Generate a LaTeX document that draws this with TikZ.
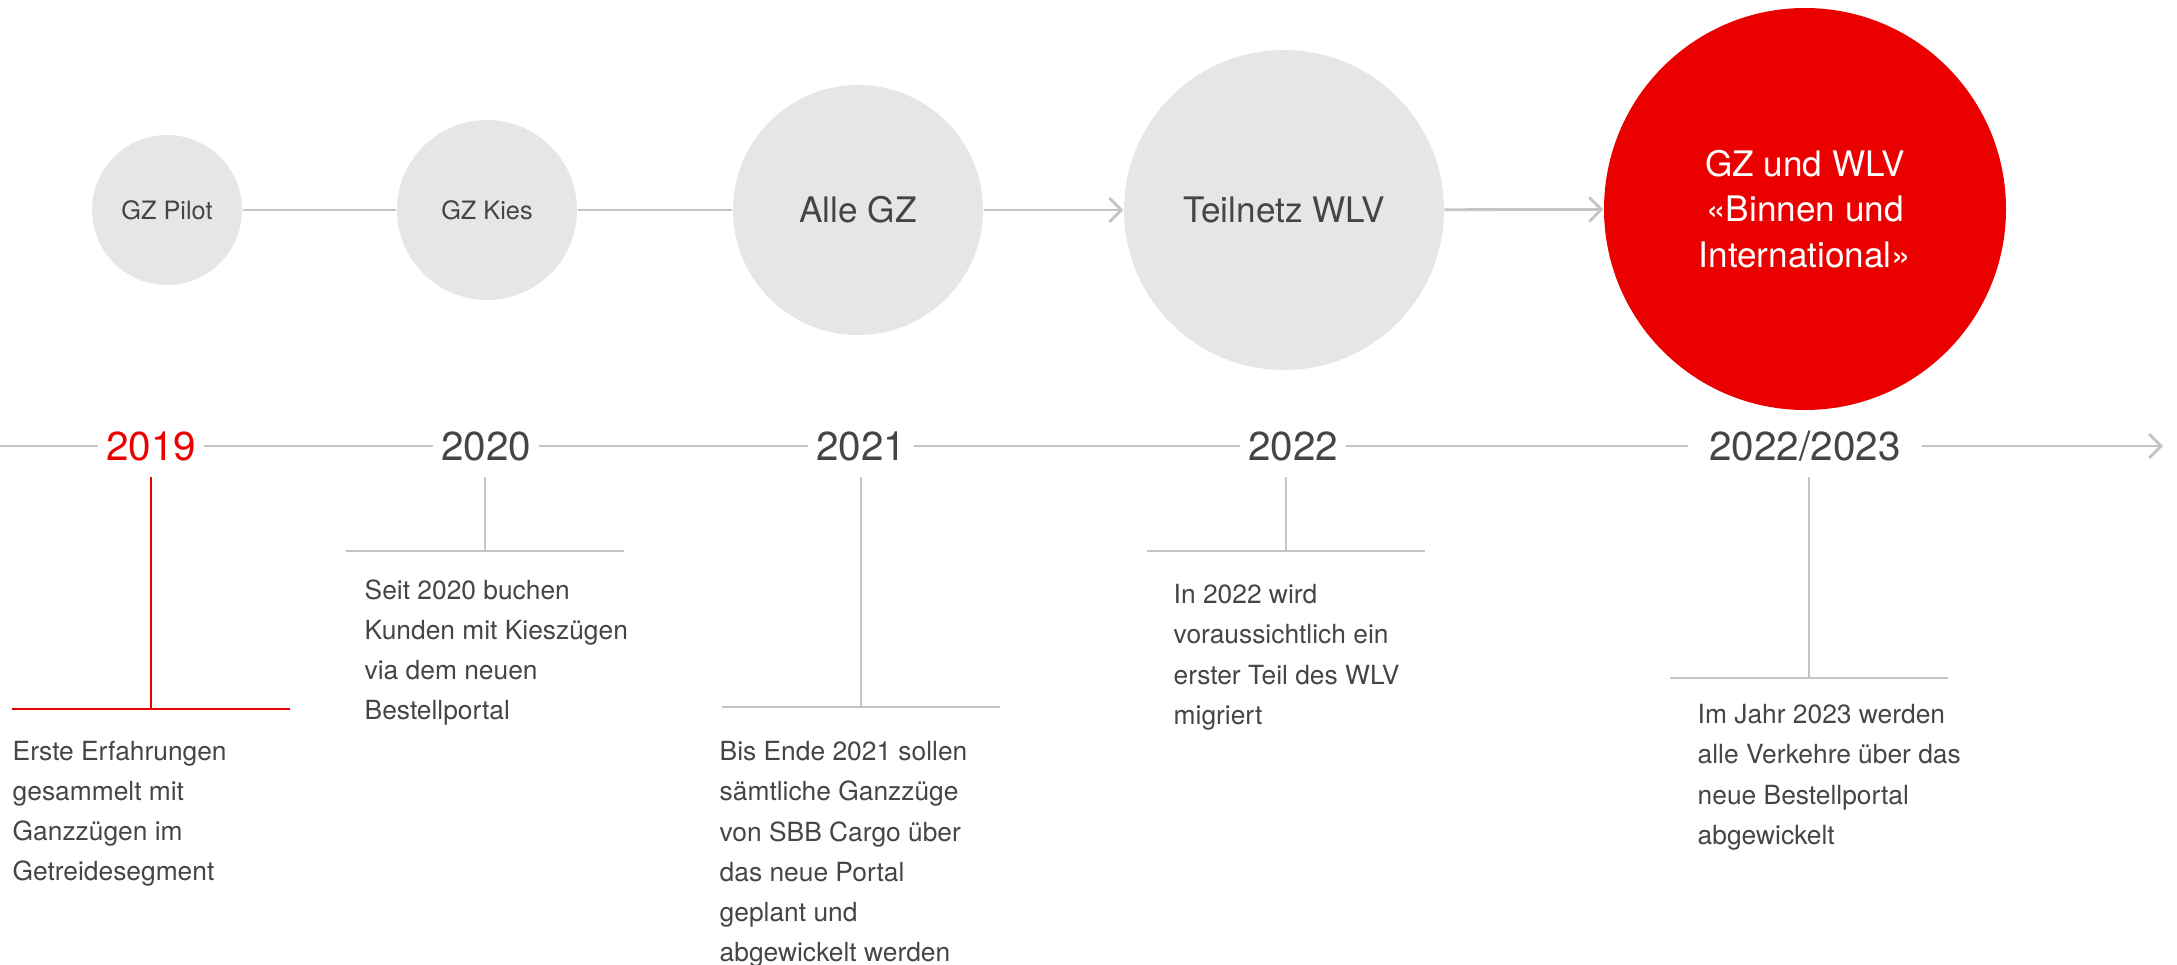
\documentclass[tikz,border=0pt]{standalone}
\usepackage{fontspec}
\setmainfont{TeX Gyre Heros}
\usetikzlibrary{arrows.meta,positioning}
\definecolor{sbbred}{HTML}{EB0000}
\definecolor{ringgrey}{HTML}{E6E6E6}
\definecolor{linegrey}{HTML}{C4C4C4}
\definecolor{textgrey}{HTML}{454545}

\begin{document}
\begin{tikzpicture}[
		stage/.style={circle, fill=ringgrey, text=textgrey, inner sep=0pt, align=center},
		year/.style={fill=white, text=textgrey, inner xsep=2pt, inner ysep=1pt, font=\fontsize{11.5}{13}\selectfont},
		note/.style={anchor=north west, align=left, text=textgrey, inner sep=0pt, font=\fontsize{7.5}{11.4}\selectfont},
		link/.style={draw=linegrey, line width=0.8pt},
		tip/.style={link, -{Straight Barb[length=1.2mm,width=2.4mm]}},
		redline/.style={draw=sbbred, line width=0.8pt}
		]
		\useasboundingbox (0,0) rectangle (21.77,-9.64);
	
		% --- Etappen (Kreise) ---
		\node[stage, minimum size=1.50cm, font=\fontsize{7.2}{9}\selectfont] (pilot) at (1.67,-2.10) {GZ Pilot};
		\node[stage, minimum size=1.80cm, font=\fontsize{7.2}{9}\selectfont] (kies) at (4.87,-2.10) {GZ Kies};
		\node[stage, minimum size=2.50cm, font=\fontsize{10}{12}\selectfont] (alle) at (8.58,-2.10) {Alle GZ};
		\node[stage, minimum size=3.20cm, font=\fontsize{10}{12}\selectfont] (teil) at (12.84,-2.10) {Teilnetz WLV};
		\node[stage, minimum size=4.02cm, fill=sbbred, text=white, font=\fontsize{10}{13}\selectfont] (wlv) at (18.05,-2.09) {GZ und WLV\\«Binnen und\\International»};
	
		\draw[link] (pilot) -- (kies);
		\draw[link] (kies) -- (alle);
		\draw[tip] (alle) -- (teil);
		\draw[tip] (teil) -- (wlv);
	
		% --- Zeitachse ---
		\coordinate (tstart) at (0,-4.46);
		\coordinate (tend) at (21.63,-4.46);
		\node[year, text=sbbred] (y2019) at (1.51,-4.46) {2019};
		\node[year] (y2020) at (4.86,-4.46) {2020};
		\node[year] (y2021) at (8.61,-4.46) {2021};
		\node[year] (y2022) at (12.93,-4.46) {2022};
		\node[year, inner xsep=6pt] (y2023) at (18.05,-4.46) {2022/2023};
	
		\draw[link] (tstart) -- (y2019);
		\draw[link] (y2019) -- (y2020);
		\draw[link] (y2020) -- (y2021);
		\draw[link] (y2021) -- (y2022);
		\draw[link] (y2022) -- (y2023);
		\draw[tip] (y2023) -- (tend);
	
		% --- Stiele und Querbalken ---
		\coordinate (t2019) at (1.51,-7.09);
		\coordinate (t2020) at (4.85,-5.51);
		\coordinate (t2021) at (8.61,-7.07);
		\coordinate (t2022) at (12.86,-5.51);
		\coordinate (t2023) at (18.09,-6.78);
	
		\draw[redline, shorten <=1.2mm] (y2019.south -| t2019) -- (t2019);
		\draw[redline] ([xshift=-1.39cm]t2019) -- ([xshift=1.39cm]t2019);
		\draw[link, shorten <=1.2mm] (y2020.south -| t2020) -- (t2020);
		\draw[link] ([xshift=-1.39cm]t2020) -- ([xshift=1.39cm]t2020);
		\draw[link, shorten <=1.2mm] (y2021.south -| t2021) -- (t2021);
		\draw[link] ([xshift=-1.39cm]t2021) -- ([xshift=1.39cm]t2021);
		\draw[link, shorten <=1.2mm] (y2022.south -| t2022) -- (t2022);
		\draw[link] ([xshift=-1.39cm]t2022) -- ([xshift=1.39cm]t2022);
		\draw[link, shorten <=1.2mm] (y2023.south -| t2023) -- (t2023);
		\draw[link] ([xshift=-1.39cm]t2023) -- ([xshift=1.39cm]t2023);
	
		% --- Texte ---
		\node[note] (n2019) at (0.12,-7.40) {Erste Erfahrungen\\gesammelt mit\\Ganzzügen im\\Getreidesegment};
		\node[note] (n2020) at (3.64,-5.79) {Seit 2020 buchen\\Kunden mit Kieszügen\\via dem neuen\\Bestellportal};
		\node[note] (n2021) at (7.19,-7.41) {Bis Ende 2021 sollen\\sämtliche Ganzzüge\\von SBB Cargo über\\das neue Portal\\geplant und\\abgewickelt werden};
		\node[note] (n2022) at (11.73,-5.84) {In 2022 wird\\voraussichtlich ein\\erster Teil des WLV\\migriert};
		\node[note] (n2023) at (16.97,-7.04) {Im Jahr 2023 werden\\alle Verkehre über das\\neue Bestellportal\\abgewickelt};
	
	\end{tikzpicture}
\end{document}
